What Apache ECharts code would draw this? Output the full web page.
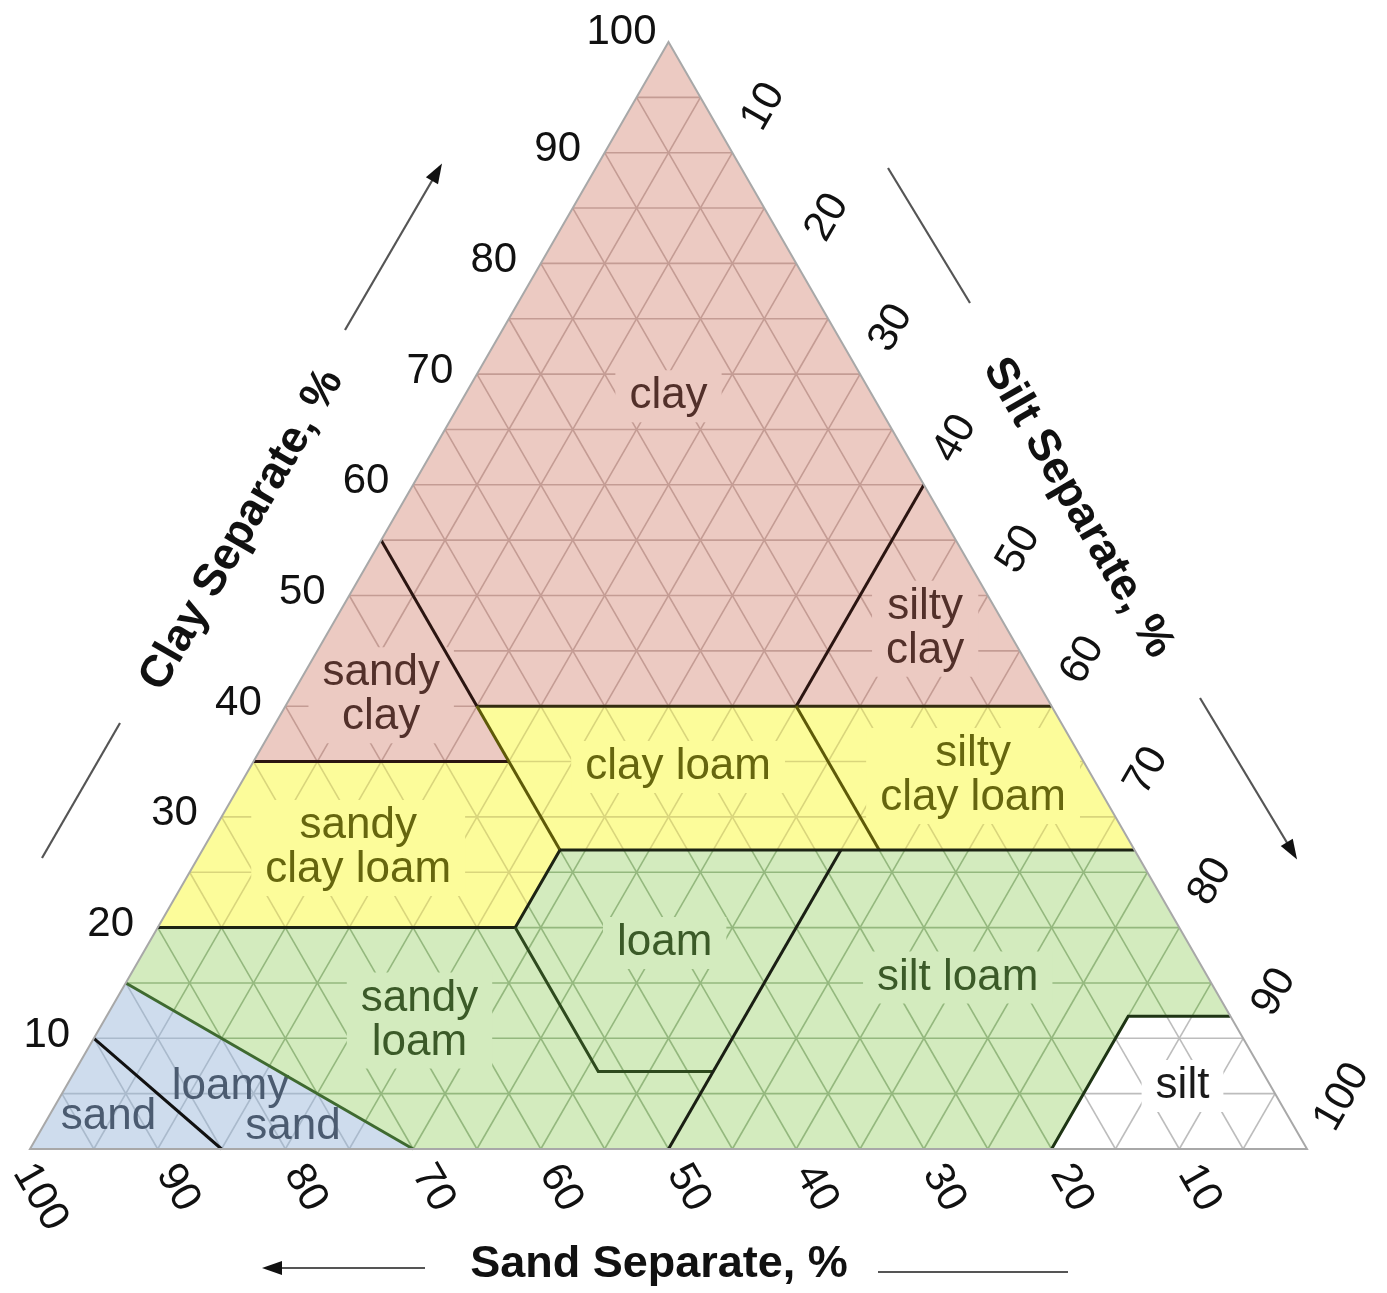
<!DOCTYPE html>
<html><head><meta charset="utf-8">
<script src="https://cdn.jsdelivr.net/npm/echarts@6/dist/echarts.min.js"></script>
<style>html,body{margin:0;padding:0;background:#fff}#c{width:1387px;height:1293px}</style>
</head><body><div id="c"></div>
<script>
// ---- DATA (compositions given as [sand %, clay %]; silt = 100 - sand - clay) ----
const regionNames = ['clay','sandy clay','silty clay','clay loam','silty clay loam','sandy clay loam','loam','silt loam','sandy loam','loamy sand','sand','silt'];
const regionGroup = ['pink','pink','pink','yellow','yellow','yellow','green','green','green','blue','blue','white'];
const clayVerts          = [[0,100],[45,55],[45,40],[20,40],[0,60]];
const sandyClayVerts     = [[65,35],[45,55],[45,35]];
const siltyClayVerts     = [[0,60],[20,40],[0,40]];
const clayLoamVerts      = [[45,40],[20,40],[20,27],[45,27]];
const siltyClayLoamVerts = [[20,40],[0,40],[0,27],[20,27]];
const sandyClayLoamVerts = [[65,35],[45,35],[45,27],[52,20],[80,20]];
const loamVerts          = [[45,27],[23,27],[43,7],[52,7],[52,20]];
const siltLoamVerts      = [[23,27],[0,27],[0,12],[8,12],[20,0],[50,0]];
const sandyLoamVerts     = [[80,20],[52,20],[52,7],[43,7],[50,0],[70,0],[85,15]];
const loamySandVerts     = [[85,15],[70,0],[85,0],[90,10]];
const sandVerts          = [[90,10],[85,0],[100,0]];
const siltVerts          = [[0,12],[0,0],[20,0],[8,12]];
const regionVertices = [clayVerts,sandyClayVerts,siltyClayVerts,clayLoamVerts,siltyClayLoamVerts,sandyClayLoamVerts,loamVerts,siltLoamVerts,sandyLoamVerts,loamySandVerts,sandVerts,siltVerts];

// class boundaries drawn as dark lines
const boundaryLines = [
  {pts:[[45,55],[45,40]], c:'#2b1511'},
  {pts:[[0,60],[20,40]], c:'#2b1511'},
  {pts:[[65,35],[45,35]], c:'#2b1511'},
  {pts:[[45,40],[0,40]], c:'#332c10'},
  {pts:[[45,40],[45,27]], c:'#5e5a08'},
  {pts:[[20,40],[20,27]], c:'#5e5a08'},
  {pts:[[45,27],[0,27]], c:'#1d2414'},
  {pts:[[45,27],[52,20],[80,20]], c:'#1d2414'},
  {pts:[[52,20],[52,7],[43,7]], c:'#2e4a1e'},
  {pts:[[23,27],[50,0]], c:'#1a1f14'},
  {pts:[[0,12],[8,12],[20,0]], c:'#1e3514'},
  {pts:[[85,15],[70,0]], c:'#3f6a30'},
  {pts:[[90,10],[85,0]], c:'#111111'}
];

// region label texts and their anchor compositions [sand, clay]
const labelTexts   = ['clay','sandy\nclay','silty\nclay','clay loam','silty\nclay loam','sandy\nclay loam','loam','silt loam','sandy\nloam','loamy','sand','sand','silt'];
const labelAnchors = [[16,68],[52,41],[6.4,47],[32,34.5],[9.3,33.7],[60.7,27.2],[41,18.6],[19.6,15.5],[63.7,11.6],[81.5,5.6],[78.4,2.0],[92.4,2.9],[6.9,5.7]];
const labelGroup   = ['pink','pink','pink','yellow','yellow','yellow','green','green','green','blue','blue','blue','white'];

const clayTicks = [10,20,30,40,50,60,70,80,90,100];
const siltTicks = [10,20,30,40,50,60,70,80,90,100];
const sandTicks = [10,20,30,40,50,60,70,80,90,100];
const axisTitles = ['Clay Separate, %','Silt Separate, %','Sand Separate, %'];

// ---- STYLE ----
const fills  = {pink:'#eccac2', yellow:'#fcfc9a', green:'#d3ebbe', blue:'#cedced', white:'#ffffff'};
const gridC  = {pink:'#c49c94', yellow:'#d9d57c', green:'#94b87e', blue:'#aabacc', white:'#bdbdbd'};
const inks   = {pink:'#52302a', yellow:'#66660e', green:'#3b5a28', blue:'#4b5b70', white:'#1a1a1a'};
const FONT = '"Liberation Sans", Arial, Helvetica, sans-serif';

function toXY(p){ return [100 - p[0] - p[1]/2, p[1]]; }

// grid line endpoints (every 5 %) in composition space
const gridSegs = [];
for (let k = 5; k < 100; k += 5) {
  gridSegs.push([[100-k,k],[0,k]]);      // constant clay
  gridSegs.push([[k,0],[k,100-k]]);      // constant sand
  gridSegs.push([[100-k,0],[0,100-k]]);  // constant silt
}

// clip a segment (plot space) to a simple polygon (plot space)
function inside(pt, poly){
  let c=false;
  for (let i=0,j=poly.length-1;i<poly.length;j=i++){
    const a=poly[i], b=poly[j];
    if (((a[1]>pt[1])!==(b[1]>pt[1])) && (pt[0] < (b[0]-a[0])*(pt[1]-a[1])/(b[1]-a[1])+a[0])) c=!c;
  }
  return c;
}
function clipSeg(a,b,poly){
  const ts=[0,1], dx=b[0]-a[0], dy=b[1]-a[1];
  for (let i=0;i<poly.length;i++){
    const p=poly[i], q=poly[(i+1)%poly.length];
    const ex=q[0]-p[0], ey=q[1]-p[1];
    const den = dx*ey - dy*ex;
    if (Math.abs(den)<1e-12) continue;
    const t = ((p[0]-a[0])*ey - (p[1]-a[1])*ex)/den;
    const u = ((p[0]-a[0])*dy - (p[1]-a[1])*dx)/den;
    if (t>0 && t<1 && u>=-1e-9 && u<=1+1e-9) ts.push(t);
  }
  ts.sort((x,y)=>x-y);
  const out=[];
  for (let i=0;i<ts.length-1;i++){
    if (ts[i+1]-ts[i]<1e-9) continue;
    const m=(ts[i]+ts[i+1])/2;
    if (inside([a[0]+dx*m,a[1]+dy*m],poly)) out.push([[a[0]+dx*ts[i],a[1]+dy*ts[i]],[a[0]+dx*ts[i+1],a[1]+dy*ts[i+1]]]);
  }
  return out;
}
const clippedGrid = [];
regionVertices.forEach((vs,ri)=>{
  const poly = vs.map(toXY);
  gridSegs.forEach(s=>{
    clipSeg(toXY(s[0]),toXY(s[1]),poly).forEach(seg=>clippedGrid.push({s:seg,g:regionGroup[ri]}));
  });
});

// thin white strips just outside the triangle (plot space) to trim label backgrounds
const maskStrips = [
  [[0,0],[50,100],[47,100],[-3,0]],
  [[100,0],[50,100],[53,100],[103,0]]
];

const chart = echarts.init(document.getElementById('c'), null, {renderer:'canvas'});
function idxData(n){ const a=[]; for(let i=0;i<n;i++) a.push([i]); return a; }

function arrow(x1,y1,x2,y2,head){
  const els = [{type:'line', silent:true, z:100, shape:{x1,y1,x2,y2}, style:{stroke:'#555', lineWidth:2.2}}];
  if (head){
    const dx=x2-x1, dy=y2-y1, L=Math.hypot(dx,dy), ux=dx/L, uy=dy/L, nx=-uy, ny=ux, s=16, w=7;
    els.push({type:'polygon', silent:true, z:100, shape:{points:[[x2+ux*4,y2+uy*4],[x2-ux*s+nx*w,y2-uy*s+ny*w],[x2-ux*s-nx*w,y2-uy*s-ny*w]]}, style:{fill:'#111'}});
  }
  return els;
}
function buildDecor(){
  const tf = 'bold 45px '+FONT;
  let els = [];
  els = els.concat(arrow(345,330,440,167,true));
  els = els.concat(arrow(42,858,120,723,false));
  els = els.concat(arrow(888,168,970,303,false));
  els = els.concat(arrow(1200,698,1295,856,true));
  els = els.concat(arrow(425,1268,266,1268,true));
  els = els.concat(arrow(878,1272,1068,1272,false));
  els.push({type:'text', z:100, x:242, y:530, rotation:Math.PI/3, silent:true, style:{text:axisTitles[0], font:tf, fill:'#111', align:'center', verticalAlign:'middle'}});
  els.push({type:'text', z:100, x:1078, y:508, rotation:-Math.PI/3, silent:true, style:{text:axisTitles[1], font:tf, fill:'#111', align:'center', verticalAlign:'middle'}});
  els.push({type:'text', z:100, x:659, y:1265, silent:true, style:{text:axisTitles[2], font:tf, fill:'#111', align:'center', verticalAlign:'middle'}});
  return els;
}

const option = {
  animation:false,
  grid:{left:30, right:80, top:42, bottom:144},
  xAxis:{type:'value', min:0, max:100, show:false},
  yAxis:{type:'value', min:0, max:100, show:false},
  series:[
    { type:'custom', name:'regions', silent:true, data: idxData(regionNames.length),
      renderItem:(params, api)=>{
        const i = api.value(0);
        const pts = regionVertices[i].map(p=>api.coord(toXY(p)));
        const f = fills[regionGroup[i]];
        return {type:'polygon', shape:{points:pts}, style:{fill:f, stroke:f, lineWidth:0.8}};
      }},
    { type:'custom', name:'grid', silent:true, data: idxData(clippedGrid.length),
      renderItem:(params, api)=>{
        const c = clippedGrid[api.value(0)];
        const a = api.coord(c.s[0]), b = api.coord(c.s[1]);
        return {type:'line', shape:{x1:a[0],y1:a[1],x2:b[0],y2:b[1]}, style:{stroke:gridC[c.g], lineWidth:1.6}};
      }},
    { type:'custom', name:'labels', silent:true, data: idxData(labelTexts.length),
      renderItem:(params, api)=>{
        const i = api.value(0);
        const p = api.coord(toXY(labelAnchors[i]));
        const g = labelGroup[i];
        const st = {text:labelTexts[i], font:'44px '+FONT, fill:inks[g], align:'center', verticalAlign:'middle', lineHeight:44};
        if (g!=='blue'){ st.backgroundColor = fills[g]; st.padding=[4,14]; }
        return {type:'text', x:p[0], y:p[1], style:st};
      }},
    { type:'custom', name:'mask', silent:true, data: idxData(maskStrips.length),
      renderItem:(params, api)=>{
        const pts = maskStrips[api.value(0)].map(p=>api.coord(p));
        return {type:'polygon', shape:{points:pts}, style:{fill:'#ffffff'}};
      }},
    { type:'custom', name:'boundaries', silent:true, data: idxData(boundaryLines.length),
      renderItem:(params, api)=>{
        const b = boundaryLines[api.value(0)];
        return {type:'polyline', shape:{points:b.pts.map(p=>api.coord(toXY(p)))}, style:{stroke:b.c, lineWidth:3, fill:'none'}};
      }},
    { type:'custom', name:'edge', silent:true, data: [[0]],
      renderItem:(params, api)=>{
        const pts = [[100,0],[0,0],[0,100]].map(p=>api.coord(toXY(p)));
        return {type:'polygon', shape:{points:pts}, style:{fill:'none', stroke:'#a8a8a8', lineWidth:2}};
      }},
    { type:'custom', name:'clayTicks', silent:true, data: idxData(clayTicks.length),
      renderItem:(params, api)=>{
        const v = clayTicks[api.value(0)];
        const p = api.coord(toXY([100-v, v]));
        const dy = v===100 ? -10 : -3;
        return {type:'text', x:p[0]-47, y:p[1]+dy, style:{text:String(v), font:'42px '+FONT, fill:'#111', align:'center', verticalAlign:'middle'}};
      }},
    { type:'custom', name:'siltTicks', silent:true, data: idxData(siltTicks.length),
      renderItem:(params, api)=>{
        const v = siltTicks[api.value(0)];
        const p = api.coord(toXY([0, 100-v]));
        const off = v===100 ? [35,-52] : [31,-46];
        return {type:'text', x:p[0]+off[0], y:p[1]+off[1], rotation:Math.PI/3, style:{text:String(v), font:'42px '+FONT, fill:'#111', align:'center', verticalAlign:'middle'}};
      }},
    { type:'custom', name:'sandTicks', silent:true, data: idxData(sandTicks.length),
      renderItem:(params, api)=>{
        const v = sandTicks[api.value(0)];
        const p = api.coord(toXY([v, 0]));
        const off = v===100 ? [10,48] : [20,39];
        return {type:'text', x:p[0]+off[0], y:p[1]+off[1], rotation:-Math.PI/3, style:{text:String(v), font:'42px '+FONT, fill:'#111', align:'center', verticalAlign:'middle'}};
      }}
  ],
  graphic: buildDecor()
};
chart.setOption(option);
</script>
</body></html>
